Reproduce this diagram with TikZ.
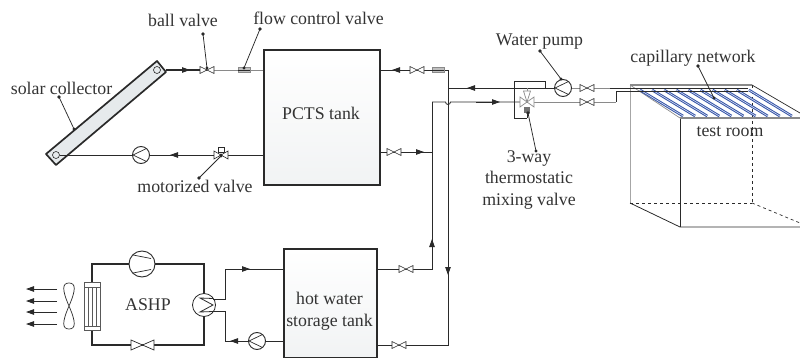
\documentclass[tikz,border=0pt]{standalone}
\usepackage{fontspec}
\setmainfont{Liberation Serif}
\usetikzlibrary{arrows.meta,calc}
\definecolor{ink}{HTML}{2A2A2A}
\definecolor{txt}{HTML}{333333}
\definecolor{pipegray}{HTML}{8A8A8A}
\definecolor{capblue}{HTML}{3554A8}
\definecolor{capcore}{HTML}{DDE3F2}
\definecolor{tankbot}{HTML}{F1F3F4}
\definecolor{panel}{HTML}{E6EAEC}
\tikzset{
  lbl/.style={font=\fontsize{17.8}{21.5}\selectfont,text=txt,inner sep=0pt,align=center},
  pipe/.style={draw=ink,line width=0.85pt},
  greypipe/.style={draw=pipegray,line width=0.85pt},
  loopline/.style={draw=ink,line width=1.7pt},
  flow/.style={-{Triangle[length=8pt,width=5.5pt]}},
  leader/.style={draw=ink,line width=0.75pt},
  tank/.style={draw=ink,line width=1.7pt,top color=white,bottom color=tankbot,inner sep=0pt,anchor=north west},
  vv/.pic={\draw[draw=ink,line width=.6pt,fill=white] (-7,-3.5)--(7,3.5)--(7,-3.5)--(-7,3.5)--cycle;},
  fcv/.pic={\draw[draw=pipegray,line width=.8pt,fill=black!25] (-6,-2.8)rectangle(6,2.8);\draw[draw=ink,line width=.5pt](-6,0)--(6,0);},
  pumpl/.pic={\draw[draw=ink,line width=.9pt,fill=white] (0,0) circle (8.5);\draw[draw=ink,line width=.7pt] (5.5,-6.5)--(-8,0)--(5.5,6.5);},
}
\begin{document}
\begin{tikzpicture}[x=1pt,y=-1pt]
\useasboundingbox (0,0) rectangle (800,358);
% ---------- room
\coordinate (rtl) at (630,85); \coordinate (rtr) at (752,85);
\coordinate (ftl) at (680,118); \coordinate (ftr) at (800,118);
\coordinate (rbl) at (630,203); \coordinate (rbr) at (752,203);
\coordinate (fbl) at (680,227); \coordinate (fbr) at (800,227);
\coordinate (rre) at (800,113); \coordinate (rbe) at (800,223);
\draw[draw=black!35,line width=.7pt] (rtl)--(rbl);
\draw[draw=black!45,line width=.7pt] (rtl)--(ftl);
\draw[draw=ink,line width=.7pt,dashed] (rbl)--(rbr);
\draw[draw=ink,line width=.7pt,dashed] (rtr)--(rbr);
\draw[draw=ink,line width=.7pt,dashed] (rbr)--(rbe);
\draw[draw=ink,line width=.7pt] (rtr)--(rre);
\draw[draw=ink,line width=.8pt] (rbl)--(fbl)--(fbr);
\draw[draw=ink,line width=.8pt] (ftl)--(fbl);
% capillaries
\foreach \i in {0,...,9}{
 \coordinate (ca) at ({640+\i*12.1},90);
 \coordinate (cb) at ({683+\i*12.1},116);
 \draw[draw=capblue,line width=2.6pt] (ca)--(cb);
 \draw[draw=capcore,line width=.6pt] (ca)--(cb);
}
\draw[draw=pipegray,line width=1.4pt] (ftl)--(ftr);
\draw[draw=pipegray,line width=1.4pt] (rtl)--(rtr);
% ---------- tanks
\node[tank,minimum width=116pt,minimum height=135pt] (pcts) at (263,49) {};
\node[lbl] (pctsl) at (321,113) {PCTS tank};
\node[tank,minimum width=93pt,minimum height=109pt] (hw) at (283,248) {};
\node[lbl] (hwl) at (329.5,311) {hot water\\storage tank};
% ---------- solar collector
\draw[loopline,fill=panel,line join=round] (157,61)--(166,72)--(56,165)--(46,154)--cycle;
\draw[draw=ink,line width=.6pt] (157,70) circle (3.5) (56,155) circle (3.5);
\coordinate (colout) at (166,70);
\coordinate (colin) at (60,155);
\coordinate (ballv) at (207,70);
\coordinate (flowv) at (244,70);
\coordinate (tankinT) at (263,70);
\coordinate (tankinB) at (263,155);
\draw[pipe,line width=1.1pt] (colout)--(ballv);
\draw[greypipe] (ballv)--(tankinT);
\draw[pipe,flow] (colout)--(190,70);
\pic at (ballv) {vv};
\pic at (flowv) {fcv};
\draw[pipe] (tankinB)--(colin);
\draw[pipe,flow] (200,155)--(170,155);
\pic at (141,155) {pumpl};
\coordinate (motv) at (221,155);
\draw[draw=ink,line width=.6pt,fill=white] (218,147) rectangle (224,152);
\draw[draw=ink,line width=.6pt,fill=white] (214,151)--(228,159)--(228,151)--(214,159)--cycle;
\fill[ink] (motv) circle (1.6);
% ---------- PCTS right side
\coordinate (pr) at (379,70);
\coordinate (jr) at (448,70);
\coordinate (jb) at (448,345);
\coordinate (pl) at (379,152);
\coordinate (jl) at (432,152);
\coordinate (jt) at (432,102);
\coordinate (hwr) at (376,269);
\coordinate (jh) at (432,269);
\coordinate (hwb) at (376,345);
\draw[pipe] (pr)--(jr)--(jb)--(hwb);
\draw[pipe,flow] (412,70)--(392,70);
\pic at (417,70) {vv};
\pic at (438,70) {fcv};
\draw[pipe] (pl)--(jl);
\pic at (394,152) {vv};
\draw[pipe,flow] (408,152)--(424,152);
\draw[pipe] (hwr)--(jh)--(jt);
\draw[pipe,flow] (432,260)--(432,239);
\pic at (406,269) {vv};
\pic at (399,345) {vv};
\draw[pipe,flow] (448,250)--(448,275);
% ---------- header to the mixing valve
\draw[pipe] (jt)--(445.5,102) arc (180:0:2.5) -- (527,102);
\draw[greypipe] (527,102)--(563,102);
\draw[pipe,flow] (476,102)--(500,102);
\draw[pipe] (448,88)--(556,88);
\draw[pipe,flow] (488,88)--(467,88);
\draw[pipe] (545,88)--(545,81)--(514,81)--(514,118)--(527,118);
% mixing valve
\coordinate (mixv) at (527,102);
\draw[draw=pipegray,line width=.8pt] (527,88)--(mixv);
\draw[draw=pipegray,line width=.7pt,fill=white] (520,97)--(534,107)--(534,97)--(520,107)--cycle;
\draw[draw=pipegray,line width=.7pt,fill=white] (527,102)--(523.5,91)--(530.5,91)--cycle;
\fill[black!55] (524,107) rectangle (530,113);
\draw[draw=ink,line width=.8pt] (527,113)--(527,118);
% pump and valves to the room
\coordinate (wpump) at (563,88);
\pic at (wpump) {pumpl};
\draw[greypipe] (571.5,88)--(610,88);
\draw[greypipe] (563,102)--(616,102);
\draw[pipe] (610,88)--(748,88);
\draw[pipe] (616,102)--(616,91)--(748,91);
\pic at (587,88) {vv};
\pic at (587,102) {vv};
% ---------- ASHP
\coordinate (ltl) at (92,264); \coordinate (ltr) at (204,264);
\coordinate (lbr) at (204,345); \coordinate (lbl) at (92,345);
\draw[loopline] (ltl)--(ltr)--(lbr)--(lbl)--cycle;
\coordinate (comp) at (142,264);
\draw[draw=ink,line width=.9pt,fill=white] (comp) circle (13);
\draw[draw=ink,line width=.7pt] (133,255)--(151,258.5) (133,273)--(151,269.5);
\draw[draw=ink,line width=.7pt,fill=white] (131,340)--(154,350)--(154,340)--(131,350)--cycle;
% condenser
\draw[draw=black!65,line width=.7pt,fill=white] (84,282) rectangle (100,330);
\draw[draw=black!65,line width=.7pt] (84,287)--(100,287) (84,326)--(100,326);
\foreach \x in {88,92,96}{\draw[draw=black!65,line width=.7pt] (\x,287)--(\x,326);}
% fan
\draw[draw=ink,line width=.7pt] (69,306) .. controls (62,290) and (62,283) .. (69,283) .. controls (76,283) and (76,290) .. (69,306) .. controls (62,322) and (62,329) .. (69,329) .. controls (76,329) and (76,322) .. (69,306);
\foreach \y in {289,301,312,324}{
 \coordinate (aa) at (57,\y); \coordinate (ab) at (26,\y);
 \draw[pipe,flow] (aa)--(ab);
}
% heat exchanger
\coordinate (hx) at (204,305);
\draw[draw=ink,line width=.8pt,fill=white] (hx) circle (11.5);
\draw[draw=ink,line width=.8pt] (213,298.5)--(200,298)--(213,305)--(200,312)--(213,311.5);
\coordinate (hwinT) at (283,269);
\coordinate (hwinB) at (283,341);
\draw[pipe] (213,299)--(225,299)--(225,269)--(hwinT);
\draw[pipe,flow] (235,269)--(250,269);
\draw[pipe] (213,311)--(225,311)--(225,341)--(hwinB);
\draw[pipe,flow] (245,341)--(230,341);
\pic at (257,341) {pumpl};
% ---------- labels and leaders
\node[lbl] (lball) at (183,20) {ball valve};
\node[lbl] (lflow) at (318.5,18) {flow control valve};
\node[lbl] (lsol) at (61.5,88) {solar collector};
\node[lbl] (lmot) at (195,186) {motorized valve};
\node[lbl] (lwp) at (539.5,42) {Water pump};
\node[lbl] (lcap) at (693,58) {capillary network};
\node[lbl] (lroom) at (730,132) {test room};
\node[lbl] (lash) at (148,305) {ASHP};
\node[lbl] (lmix) at (529,180) {3-way\\thermostatic\\mixing valve};
\foreach \a/\b in {{203,34}/{207,68},{260,29}/{244,68},{59,97}/{74,129},{199,178}/{221,156},{540,51}/{561,79},{698,66}/{714,98},{528,113}/{536,151}}{
 \coordinate (la) at (\a); \coordinate (lb) at (\b);
 \draw[leader] (la)--(lb);
 \fill[ink] (la) circle (1.8) (lb) circle (1.6);
}
\end{tikzpicture}
\end{document}
